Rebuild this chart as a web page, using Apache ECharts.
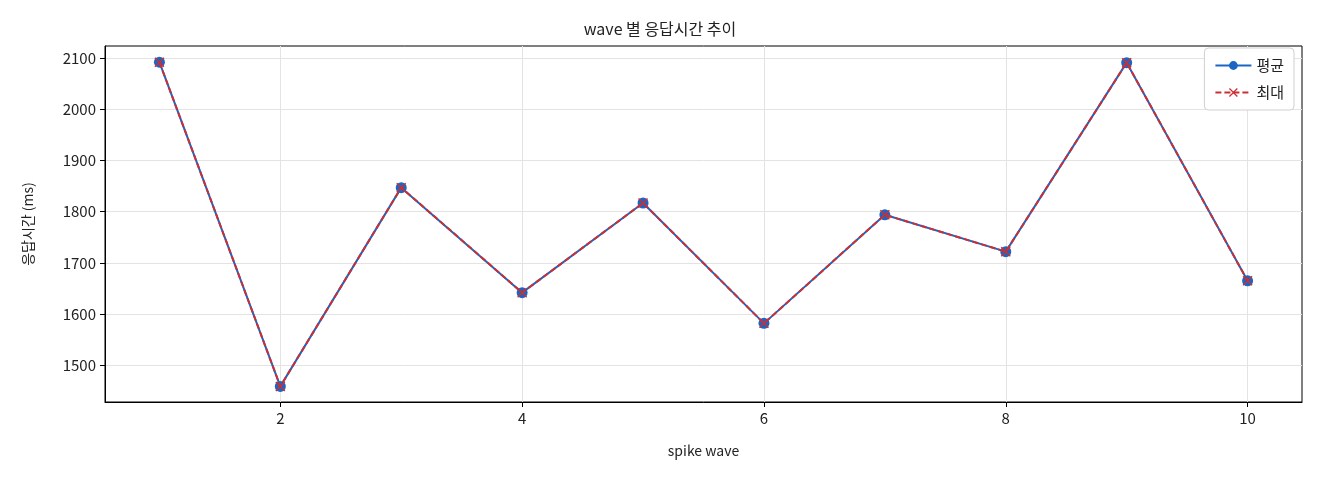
<!DOCTYPE html>
<html>
<head>
<meta charset="utf-8">
<script src="https://cdn.jsdelivr.net/npm/echarts@6/dist/echarts.min.js"></script>
<style>
  html, body { margin: 0; padding: 0; background: #fff; }
  #chart-box { width: 1320px; height: 480px; }
</style>
</head>
<body>
<div id="chart-box"></div>
<script>
// wave 번호
const waves = [1, 2, 3, 4, 5, 6, 7, 8, 9, 10]
// 평균 / 최대 응답시간 (ms)
const avgValues = [2092, 1459, 1847, 1642, 1817, 1582, 1794, 1722, 2091, 1665]
const maxValues = [2092, 1459, 1847, 1642, 1817, 1582, 1794, 1722, 2091, 1665]
// 눈금
const xTicks = [2, 4, 6, 8, 10]
const yTicks = [1500, 1600, 1700, 1800, 1900, 2000, 2100]

const font = '"Noto Sans CJK KR", "Noto Sans", sans-serif'
const crossPath = 'path://M1,0 L5,4 L9,0 L10,1 L6,5 L10,9 L9,10 L5,6 L1,10 L0,9 L4,5 L0,1 Z'

const chart = echarts.init(document.getElementById('chart-box'))
const option = {
    animation: false,
    textStyle: {fontFamily: font},
    title: {
        text: 'wave 별 응답시간 추이',
        left: 'center',
        top: 16,
        textStyle: {fontSize: 16, fontWeight: 'normal', color: '#222', fontFamily: font}
    },
    grid: {
        left: 105, right: 18, top: 46, bottom: 78,
        show: true, borderColor: '#000', borderWidth: 1
    },
    legend: {
        orient: 'vertical',
        right: 26,
        top: 48,
        backgroundColor: '#fff',
        borderColor: '#d0d0d0',
        borderWidth: 1,
        borderRadius: 4,
        padding: [10, 10, 10, 10],
        itemWidth: 36,
        itemHeight: 11,
        itemGap: 12,
        textStyle: {fontSize: 15, color: '#222', fontFamily: font},
        data: ['평균', '최대']
    },
    xAxis: {
        type: 'value',
        min: 0.55,
        max: 10.45,
        name: 'spike wave',
        nameLocation: 'middle',
        nameGap: 42,
        nameTextStyle: {fontSize: 14, color: '#222', fontFamily: font},
        axisLine: {show: true, lineStyle: {color: '#000'}},
        axisTick: {show: true, length: 5, customValues: xTicks, lineStyle: {color: '#000'}},
        axisLabel: {customValues: xTicks, fontSize: 15, color: '#222', margin: 9, fontFamily: font},
        splitLine: {show: true, lineStyle: {color: '#e3e3e3'}}
    },
    yAxis: {
        type: 'value',
        min: 1428.5,
        max: 2123.5,
        name: '응답시간 (ms)',
        nameLocation: 'middle',
        nameGap: 70,
        nameTextStyle: {fontSize: 14, color: '#222', fontFamily: font},
        axisLine: {show: true, lineStyle: {color: '#000'}},
        axisTick: {show: true, length: 5, customValues: yTicks, lineStyle: {color: '#000'}},
        axisLabel: {
            customValues: yTicks, fontSize: 15, color: '#222', margin: 9, fontFamily: font,
            formatter: v => String(v)
        },
        splitLine: {show: true, lineStyle: {color: '#e3e3e3'}}
    },
    series: [
        {
            name: '평균',
            type: 'line',
            data: waves.map((w, i) => [w, avgValues[i]]),
            symbol: 'circle',
            symbolSize: 11,
            lineStyle: {color: '#1a66c4', width: 2},
            itemStyle: {color: '#1a66c4'},
            z: 2
        },
        {
            name: '최대',
            type: 'line',
            data: waves.map((w, i) => [w, maxValues[i]]),
            symbol: crossPath,
            symbolSize: 10,
            lineStyle: {color: '#cc2f33', width: 2, type: [6, 3]},
            itemStyle: {color: '#cc2f33'},
            z: 3
        }
    ]
}
chart.setOption(option)
</script>
</body>
</html>
